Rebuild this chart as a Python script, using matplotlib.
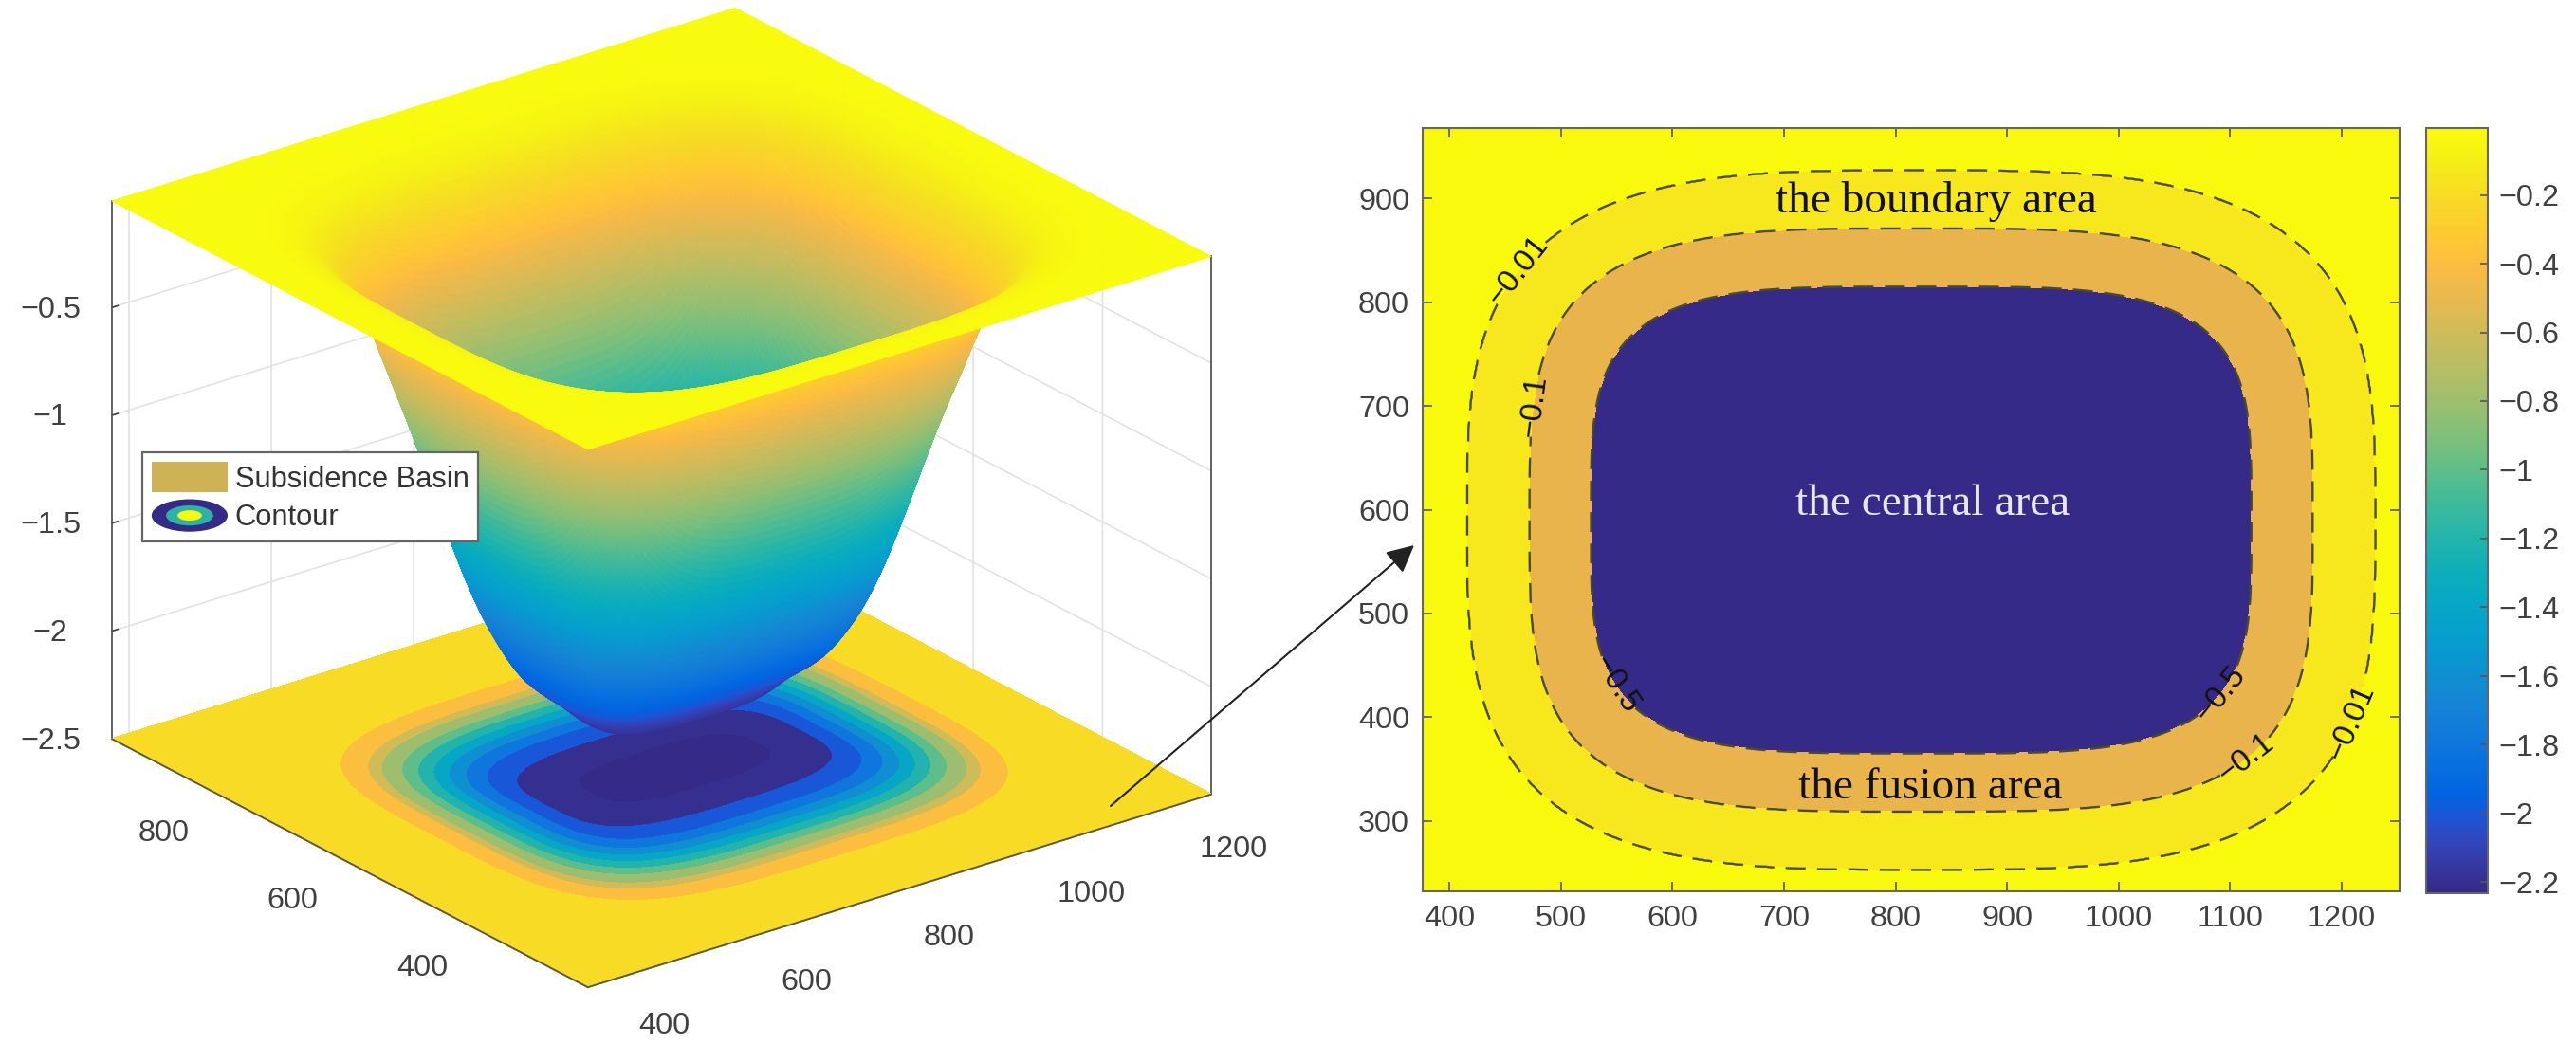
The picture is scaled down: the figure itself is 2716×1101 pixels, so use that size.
import numpy as np
import matplotlib
matplotlib.use("Agg")
import matplotlib.pyplot as plt
from matplotlib.colors import LinearSegmentedColormap, Normalize
from matplotlib.cm import ScalarMappable
from matplotlib.patches import Patch, Ellipse, FancyArrowPatch
from matplotlib.legend_handler import HandlerBase
from matplotlib.transforms import Affine2D
from mpl_toolkits.mplot3d import proj3d

W, H = 2716, 1101
plt.rcParams['font.family'] = ['Liberation Sans', 'DejaVu Sans']
plt.rcParams['grid.color'] = '#e2e2e2'
plt.rcParams['grid.linewidth'] = 1.2
TXT = '#404040'

parula_colors = [
    (0.2081, 0.1663, 0.5292), (0.2123, 0.2138, 0.6270), (0.1959, 0.2645, 0.7279),
    (0.1253, 0.3242, 0.8303), (0.0117, 0.3875, 0.8820), (0.0165, 0.4266, 0.8786),
    (0.0498, 0.4586, 0.8641), (0.0723, 0.4887, 0.8467), (0.0793, 0.5200, 0.8312),
    (0.0641, 0.5570, 0.8240), (0.0343, 0.5966, 0.8199), (0.0239, 0.6287, 0.8038),
    (0.0228, 0.6535, 0.7768), (0.0384, 0.6743, 0.7436), (0.0843, 0.6928, 0.7062),
    (0.1453, 0.7098, 0.6646), (0.2178, 0.7250, 0.6193), (0.3022, 0.7376, 0.5712),
    (0.3953, 0.7459, 0.5244), (0.4871, 0.7491, 0.4840), (0.5709, 0.7485, 0.4494),
    (0.6473, 0.7456, 0.4188), (0.7184, 0.7411, 0.3905), (0.7858, 0.7356, 0.3633),
    (0.8507, 0.7299, 0.3360), (0.9139, 0.7258, 0.3063), (0.9739, 0.7314, 0.2666),
    (0.9990, 0.7653, 0.2164), (0.9880, 0.8066, 0.1794), (0.9697, 0.8481, 0.1475),
    (0.9589, 0.8949, 0.1132), (0.9661, 0.9514, 0.0755), (0.9763, 0.9831, 0.0538),
]
parula = LinearSegmentedColormap.from_list('parula', parula_colors, N=256)

# Basin contours: depth, half widths in x / y, corner squareness
center_x, center_y = 823, 590
depths = [-0.006, -0.01, -0.1, -0.2, -0.4, -0.5, -0.6, -0.8, -1.0, -1.2, -1.4, -1.6, -1.8, -2.0, -2.2, -2.23]
half_x = [425, 407, 351, 329, 303, 296, 292, 275, 262, 248, 234, 219, 201, 178, 118, 70]
half_y = [355, 337, 281, 259, 232, 225, 220, 203, 190, 176, 162, 147, 129, 100, 52, 25]
square = [3.3, 3.3, 3.6, 3.7, 3.85, 3.9, 3.8, 3.7, 3.6, 3.6, 3.6, 3.6, 3.5, 3.3, 3.0, 3.0]

xlim = (376, 1252)
ylim = (232, 968)
zlim = (-2.5, -0.006)
clim = (-2.233, -0.005)

x_ticks = [400, 500, 600, 700, 800, 900, 1000, 1100, 1200]
y_ticks = [300, 400, 500, 600, 700, 800, 900]
cb_ticks = [-0.2, -0.4, -0.6, -0.8, -1, -1.2, -1.4, -1.6, -1.8, -2, -2.2]
cb_labels = ['\u22120.2', '\u22120.4', '\u22120.6', '\u22120.8', '\u22121', '\u22121.2', '\u22121.4', '\u22121.6', '\u22121.8', '\u22122', '\u22122.2']
x3_ticks = [400, 600, 800, 1000, 1200]
y3_ticks = [400, 600, 800]
z3_ticks = [-2.5, -2, -1.5, -1, -0.5]
z3_labels = ['\u22122.5', '\u22122', '\u22121.5', '\u22121', '\u22120.5']
base_levels = [-2.6, -2.2, -2.0, -1.8, -1.6, -1.4, -1.2, -1.0, -0.8, -0.6, -0.4, -0.2, 0.0]
map_levels = [-3.0, -0.5, -0.1, -0.01, 0.0]
map_colors = ['#352A87', '#E9B44C', '#F7E81E', '#F9F90E']
line_levels = [-0.5, -0.1, -0.01]
label_fmt = {-0.5: '\u22120.5', -0.1: '\u22120.1', -0.01: '\u22120.01'}
label_spots = [(467, 827), (1213, 394), (482, 699), (1118, 355), (551, 433), (1092, 422)]


def field(nx, ny):
    x = np.linspace(*xlim, nx)
    y = np.linspace(*ylim, ny)
    X, Y = np.meshgrid(x, y)
    dx, dy = np.abs(X - center_x), np.abs(Y - center_y)
    rho = np.stack([((dx / a) ** n + (dy / b) ** n) ** (1 / n) for a, b, n in zip(half_x, half_y, square)])
    d = np.array(depths)
    k = np.clip((rho <= 1).sum(axis=0) - 1, -1, len(d) - 1)
    Z = np.full(X.shape, d[0])
    inner = k == len(d) - 1
    Z[inner] = d[-1]
    mid = (k >= 0) & ~inner
    i, j = np.nonzero(mid)
    ki = k[mid]
    r0, r1 = rho[ki, i, j], rho[ki + 1, i, j]
    t = (1 - r0) / (r1 - r0)
    Z[mid] = d[ki] + t * (d[ki + 1] - d[ki])
    return X, Y, Z


def soften(Z, win, passes):
    kern = np.ones(win) / win
    pad = win // 2
    for _ in range(passes):
        Z = np.apply_along_axis(lambda v: np.convolve(np.pad(v, pad, mode='edge'), kern, 'valid'), 0, Z)
        Z = np.apply_along_axis(lambda v: np.convolve(np.pad(v, pad, mode='edge'), kern, 'valid'), 1, Z)
    return Z


fig = plt.figure(figsize=(W / 100, H / 100), dpi=100, facecolor='white')
norm = Normalize(*clim)

# ---------- 3-D panel ----------
ax3 = fig.add_axes([0.0, 0.0, 0.4, 0.98], projection='3d', proj_type='ortho', computed_zorder=False)
ax3.set_xlim(*xlim); ax3.set_ylim(*ylim); ax3.set_zlim(*zlim)
ax3.view_init(elev=23.7, azim=-127.6)
ax3.set_box_aspect((830, 823, 620))
ax3.patch.set_alpha(0)

Xb, Yb, Zb = field(700, 600)
band_colors = [parula(norm(v)) for v in base_levels[:-1]]
cf3 = ax3.contourf(Xb, Yb, Zb, levels=base_levels, colors=band_colors, zdir='z', offset=zlim[0], zorder=1)
cf3.set_edgecolor('face')
cf3.set_linewidth(0.8)

Xs, Ys, Zs = field(300, 260)
Zs = soften(Zs, 9, 2)
Zface = (Zs[:-1, :-1] + Zs[1:, :-1] + Zs[:-1, 1:] + Zs[1:, 1:]) / 4
ax3.plot_surface(Xs, Ys, Zs, facecolors=parula(norm(Zface)), rstride=1, cstride=1, linewidth=0.7,
                 antialiased=True, shade=False, zorder=2)

EDGE = '#555555'
ax3.plot([xlim[0], xlim[1]], [ylim[0], ylim[0]], [zlim[0], zlim[0]], color=EDGE, lw=1.3, zorder=3)
ax3.plot([xlim[0], xlim[0]], [ylim[0], ylim[1]], [zlim[0], zlim[0]], color=EDGE, lw=1.3, zorder=3)
ax3.plot([xlim[0], xlim[0]], [ylim[1], ylim[1]], list(zlim), color=EDGE, lw=1.3, zorder=0.5)
ax3.plot([xlim[1], xlim[1]], [ylim[0], ylim[0]], list(zlim), color=EDGE, lw=1.3, zorder=0.5)

ax3.set_xticks(x3_ticks); ax3.set_yticks(y3_ticks); ax3.set_zticks(z3_ticks)
ax3.set_zticklabels(z3_labels)
for axis in (ax3.xaxis, ax3.yaxis, ax3.zaxis):
    axis.set_pane_color((1, 1, 1, 1))
    axis.pane.set_edgecolor('none')
    axis.line.set_color('none')
    axis._axinfo['tick']['inward_factor'] = 0.0
    axis._axinfo['tick']['outward_factor'] = 0.12
    axis._axinfo['tick']['linewidth'] = {True: 1.2, False: 1.2}
    axis._axinfo['tick']['color'] = '#555555'
ax3.tick_params(axis='both', labelsize=23.3, labelcolor=TXT, colors=TXT, pad=12)
ax3.tick_params(axis='z', pad=14)

# place the box on the figure: compare projected corners to where they should land
left_px, right_px = (118, H - 779), (1277, H - 838)


def corner(xv, yv, zv):
    ax3.apply_aspect()
    xs, ys, _ = proj3d.proj_transform(xv, yv, zv, ax3.get_proj())
    return ax3.transData.transform((xs, ys))


S = 1000.0
ax3.set_position([0.2, 0.2, S / W, S / H])
l, r = corner(xlim[0], ylim[1], zlim[0]), corner(xlim[1], ylim[0], zlim[0])
S *= (right_px[0] - left_px[0]) / (r[0] - l[0])
ax3.set_position([0.2, 0.2, S / W, S / H])
l = corner(xlim[0], ylim[1], zlim[0])
r = corner(xlim[1], ylim[0], zlim[0])
shift_x = (left_px[0] + right_px[0]) / 2 - (l[0] + r[0]) / 2
shift_y = (left_px[1] + right_px[1]) / 2 - (l[1] + r[1]) / 2
ax3.set_position([0.2 + shift_x / W, 0.2 + shift_y / H, S / W, S / H])


# nudge the 3-D tick labels (pixels on the figure); Axis3D re-sets their transform on every access
def nudge(label, ox, oy):
    base = label.set_transform
    label.set_transform = lambda t: base(t + Affine2D().translate(ox, oy))


for axis, (ox, oy) in ((ax3.xaxis, (42, 3)), (ax3.yaxis, (-33, 7)), (ax3.zaxis, (-12, 10))):
    for tick in axis.get_major_ticks():
        nudge(tick.label1, ox, oy)

# ---------- legend ----------
ELL_FRACS = [1.0, 0.62, 0.32]
ELL_COLS = ['#352A87', '#2BB3A6', '#F9F90E']


class EllipseHandler(HandlerBase):
    def create_artists(self, legend, orig, xd, yd, w, h, fs, trans):
        return [Ellipse((w / 2 - xd, h / 2 - yd), w * f, h * 1.05 * f, facecolor=c, edgecolor='none', transform=trans)
                for f, c in zip(ELL_FRACS, ELL_COLS)]


h_basin = Patch(facecolor='#CFB254', edgecolor='none')
h_contour = Patch(facecolor='#352A87', edgecolor='none')
fig.legend([h_basin, h_contour], ['Subsidence Basin', 'Contour'], handler_map={h_contour: EllipseHandler()},
           loc='upper left', bbox_to_anchor=(150 / W, 1 - 477 / H), bbox_transform=fig.transFigure,
           fontsize=22.2, labelcolor='#333333', fancybox=False, framealpha=1, edgecolor='#666666',
           handlelength=2.6, handleheight=1.25, handletextpad=0.25, labelspacing=0.22,
           borderpad=0.32, borderaxespad=0).get_frame().set_linewidth(1.6)

# ---------- map panel ----------
ax = fig.add_axes([1500 / W, 1 - 940 / H, (2530 - 1500) / W, (940 - 135) / H])
Xm, Ym, Zm = field(900, 800)
ax.contourf(Xm, Ym, Zm, levels=map_levels, colors=map_colors)
cs = ax.contour(Xm, Ym, Zm, levels=line_levels, colors='#4a4a30', linewidths=1.7, linestyles=[(0, (8.9, 5.1))])
ax.clabel(cs, fmt=label_fmt, manual=label_spots, fontsize=24, colors='#111111', inline=True, inline_spacing=0)
ax.set_xlim(*xlim); ax.set_ylim(*ylim)
ax.set_xticks(x_ticks); ax.set_yticks(y_ticks)
ax.tick_params(direction='in', length=7, width=1.2, color='#555555', labelsize=23.3, labelcolor=TXT,
               top=True, right=True, pad=10)
for s in ax.spines.values():
    s.set_color('#666666'); s.set_linewidth(1.5)

serif = ['Liberation Serif', 'DejaVu Serif']
for txt, xp, yp, col in [('the boundary area', 2041, 224, '#111111'), ('the central area', 2038, 543, '#e8e6f4'),
                         ('the fusion area', 2035, 842, '#111111')]:
    fig.text(xp / W, 1 - yp / H, txt, family=serif, fontsize=34, color=col, ha='center', va='baseline')

# ---------- colour bar ----------
cax = fig.add_axes([2558 / W, 1 - 942 / H, (2623 - 2558) / W, (942 - 135) / H])
cb = fig.colorbar(ScalarMappable(norm=norm, cmap=parula), cax=cax)
cb.set_ticks(cb_ticks)
cb.set_ticklabels(cb_labels)
cax.tick_params(direction='in', length=6, width=1.2, color='#555555', labelsize=23.3, labelcolor=TXT, pad=8)
cb.outline.set_edgecolor('#666666'); cb.outline.set_linewidth(1.5)

# ---------- arrow ----------
fig.add_artist(FancyArrowPatch(
    (1171 / W, 1 - 850 / H), (1491 / W, 1 - 575 / H), transform=fig.transFigure,
    arrowstyle='-|>', mutation_scale=44, color='#222222', linewidth=1.5, shrinkA=0, shrinkB=0, zorder=10))

fig.savefig('out.png', dpi=100, facecolor='white')
